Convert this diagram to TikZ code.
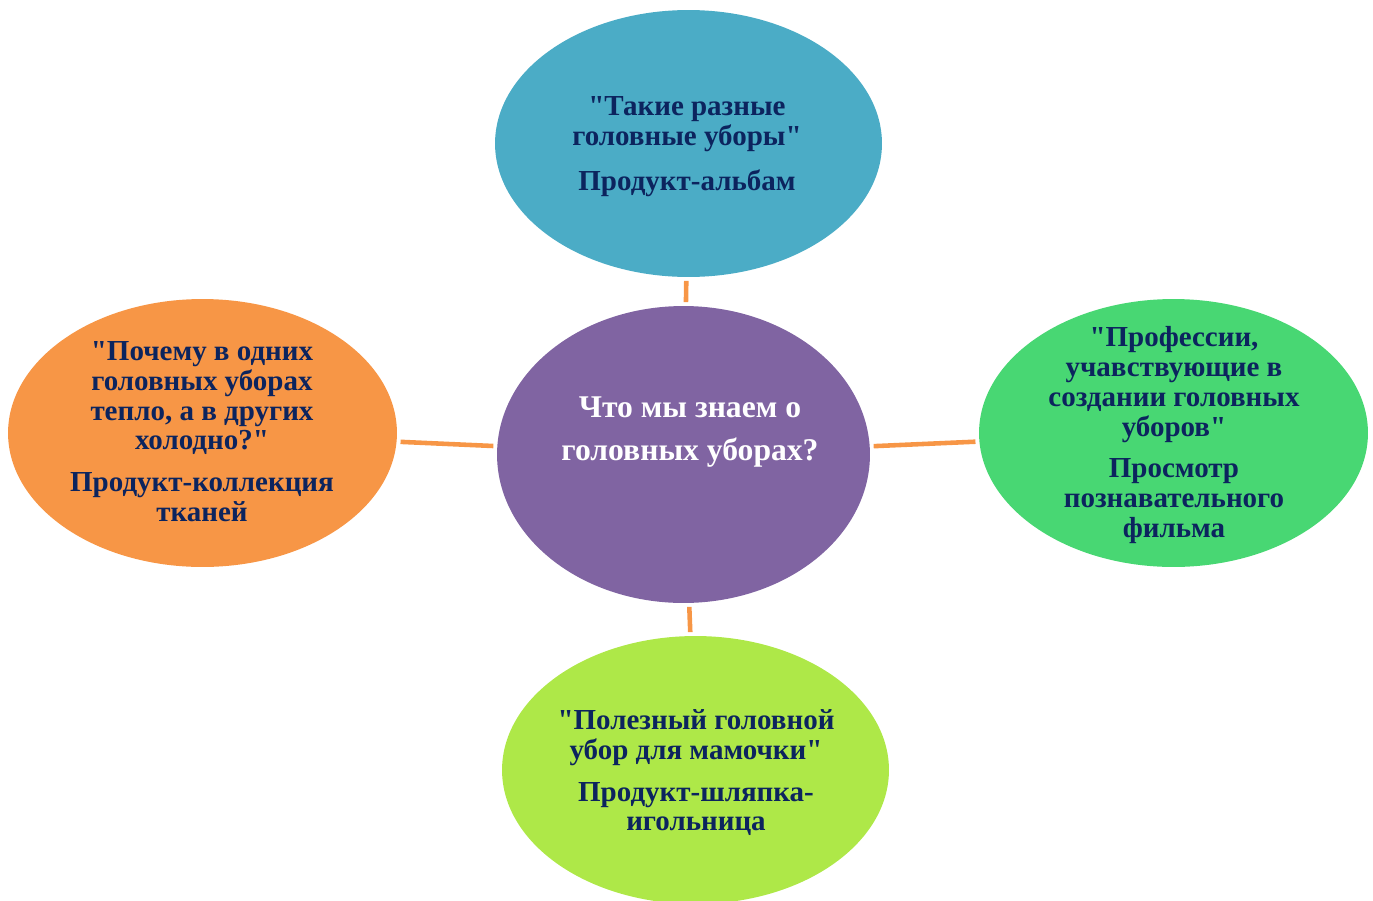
\documentclass[tikz,border=0pt]{standalone}
\usepackage{fontspec}
\setmainfont{Liberation Serif}[Ligatures=TeXOff]
\usetikzlibrary{shapes.geometric}
\definecolor{cblue}{HTML}{4BACC6}
\definecolor{cpurple}{HTML}{8064A2}
\definecolor{corange}{HTML}{F79646}
\definecolor{cgreen}{HTML}{48D773}
\definecolor{clime}{HTML}{AEE848}
\definecolor{navy}{HTML}{0C245E}
\begin{document}
\begin{tikzpicture}[x=0.02cm,y=-0.02cm,
  bubble/.style={ellipse,inner sep=0pt,outer sep=0pt,draw=none},
  bubtext/.style={align=center,text=navy,font=\bfseries\fontsize{16.5}{17}\selectfont,inner sep=0pt,anchor=north},
  conn/.style={draw=corange,line width=2.6pt,shorten <=0.08cm,shorten >=0.08cm}]
\useasboundingbox (0,0) rectangle (1373,900);
\clip (0,0) rectangle (1373,900);
\node[bubble,fill=cpurple,minimum width=7.46cm,minimum height=5.94cm] (c) at (683.5,454.5) {};
\node[bubble,fill=cblue,minimum width=7.74cm,minimum height=5.34cm] (t) at (688.5,143.5) {};
\node[bubble,fill=corange,minimum width=7.78cm,minimum height=5.36cm] (l) at (202.5,433) {};
\node[bubble,fill=cgreen,minimum width=7.78cm,minimum height=5.36cm] (r) at (1173.5,433) {};
\node[bubble,fill=clime,minimum width=7.74cm,minimum height=5.36cm] (b) at (695.5,770) {};
\draw[conn] (c) -- (t);
\draw[conn] (c) -- (l);
\draw[conn] (c) -- (r);
\draw[conn] (c) -- (b);
\node[bubtext] (ttxt) at (687,96) {"Такие разные\\головные уборы"\\[0.3cm]Продукт-альбам};
\node[bubtext] (ltxt) at (202,341) {"Почему в одних\\головных уборах\\тепло, а в других\\холодно?"\\[0.24cm]Продукт-коллекция\\тканей};
\node[bubtext] (rtxt) at (1174,326) {"Профессии,\\учавствующие в\\создании головных\\уборов"\\[0.24cm]Просмотр\\познавательного\\фильма};
\node[bubtext] (btxt) at (696,709) {"Полезный головной\\убор для мамочки"\\[0.24cm]Продукт-шляпка-\\игольница};
\node[bubtext,text=white,font=\bfseries\fontsize{18}{25}\selectfont] (ctxt) at (690,396) {Что мы знаем о\\головных уборах?};
\end{tikzpicture}
\end{document}
